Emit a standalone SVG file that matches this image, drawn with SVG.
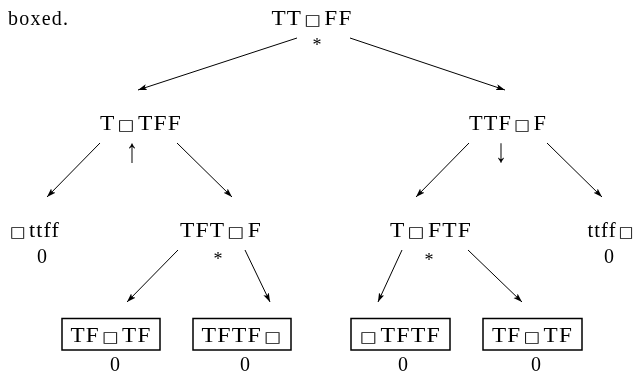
<svg xmlns="http://www.w3.org/2000/svg" width="637" height="376" viewBox="0 0 637 376">
<defs>
<marker id="ah" markerUnits="userSpaceOnUse" markerWidth="10" markerHeight="8" refX="9" refY="3" orient="auto">
<path d="M0,0 L9,3 L0,6 L2,3 z" fill="#000"/>
</marker>
<filter id="gray" filterUnits="userSpaceOnUse" x="0" y="0" width="637" height="376">
<feColorMatrix type="saturate" values="0"/>
</filter>
<style>
text{font-family:"Liberation Serif","DejaVu Serif",serif;font-size:20px;fill:#000;text-anchor:middle}
.lb{letter-spacing:1px}
.sq{font-family:"DejaVu Sans",sans-serif;font-size:15px}
.st{font-size:18px}
.ar{font-size:24px}
.left{text-anchor:start}
line{stroke:#000;stroke-width:1;marker-end:url(#ah)}
rect{fill:none;stroke:#000;stroke-width:1.5}
</style>
</defs>
<g filter="url(#gray)">
<text class="left" x="8" y="25" textLength="60" lengthAdjust="spacing">boxed.</text>
<g id="connectors">
<line x1="297" y1="38" x2="138" y2="90"/>
<line x1="350" y1="38" x2="505" y2="90"/>
<line x1="100" y1="143" x2="47" y2="197"/>
<line x1="177" y1="143" x2="232" y2="197"/>
<line x1="469" y1="143" x2="416" y2="197"/>
<line x1="547" y1="143" x2="602" y2="197"/>
<line x1="178" y1="250" x2="127" y2="302"/>
<line x1="245" y1="250" x2="270" y2="302"/>
<line x1="402" y1="250" x2="378" y2="302"/>
<line x1="468" y1="250" x2="522" y2="302"/>
</g>
<g id="n-root">
<text class="lb" x="312" y="25" textLength="81" lengthAdjust="spacingAndGlyphs">TT<tspan class="sq" dx="2">□</tspan><tspan dx="2">FF</tspan></text>
<text class="st" x="317" y="51">*</text>
</g>
<g id="n-l">
<text class="lb" x="141" y="130" textLength="82" lengthAdjust="spacingAndGlyphs">T<tspan class="sq" dx="2">□</tspan><tspan dx="2">TFF</tspan></text>
<text class="ar" transform="translate(132,162) scale(1,1.4)">↑</text>
</g>
<g id="n-r">
<text class="lb" x="508" y="130" textLength="78" lengthAdjust="spacingAndGlyphs">TTF<tspan class="sq" dx="2">□</tspan><tspan dx="2">F</tspan></text>
<text class="ar" transform="translate(501,162) scale(1,1.4)">↓</text>
</g>
<g id="n-ll">
<text class="lb" x="35" y="237" textLength="50" lengthAdjust="spacingAndGlyphs"><tspan class="sq">□</tspan><tspan dx="2">ttff</tspan></text>
<text x="42" y="263">0</text>
</g>
<g id="n-lr">
<text class="lb" x="221" y="237" textLength="82" lengthAdjust="spacingAndGlyphs">TFT<tspan class="sq" dx="2">□</tspan><tspan dx="2">F</tspan></text>
<text class="st" x="218" y="265">*</text>
</g>
<g id="n-rl">
<text class="lb" x="431" y="237" textLength="82" lengthAdjust="spacingAndGlyphs">T<tspan class="sq" dx="2">□</tspan><tspan dx="2">FTF</tspan></text>
<text class="st" x="429" y="266">*</text>
</g>
<g id="n-rr">
<text class="lb" x="611" y="237" textLength="47" lengthAdjust="spacingAndGlyphs">ttff<tspan class="sq" dx="2">□</tspan></text>
<text x="609" y="263">0</text>
</g>
<g id="n-b1">
<rect x="62" y="318.5" width="98" height="31.5"/>
<text class="lb" x="111" y="341.5" textLength="81" lengthAdjust="spacingAndGlyphs">TF<tspan class="sq" dx="2">□</tspan><tspan dx="2">TF</tspan></text>
<text x="115" y="371">0</text>
</g>
<g id="n-b2">
<rect x="193" y="318.5" width="98" height="31.5"/>
<text class="lb" x="242" y="341.5" textLength="81" lengthAdjust="spacingAndGlyphs">TFTF<tspan class="sq" dx="2">□</tspan></text>
<text x="245" y="371">0</text>
</g>
<g id="n-b3">
<rect x="351" y="318.5" width="99" height="31.5"/>
<text class="lb" x="400.5" y="341.5" textLength="81" lengthAdjust="spacingAndGlyphs"><tspan class="sq">□</tspan><tspan dx="2">TFTF</tspan></text>
<text x="403" y="371">0</text>
</g>
<g id="n-b4">
<rect x="483" y="318.5" width="99" height="31.5"/>
<text class="lb" x="532.5" y="341.5" textLength="81" lengthAdjust="spacingAndGlyphs">TF<tspan class="sq" dx="2">□</tspan><tspan dx="2">TF</tspan></text>
<text x="536" y="371">0</text>
</g>
</g>
</svg>
